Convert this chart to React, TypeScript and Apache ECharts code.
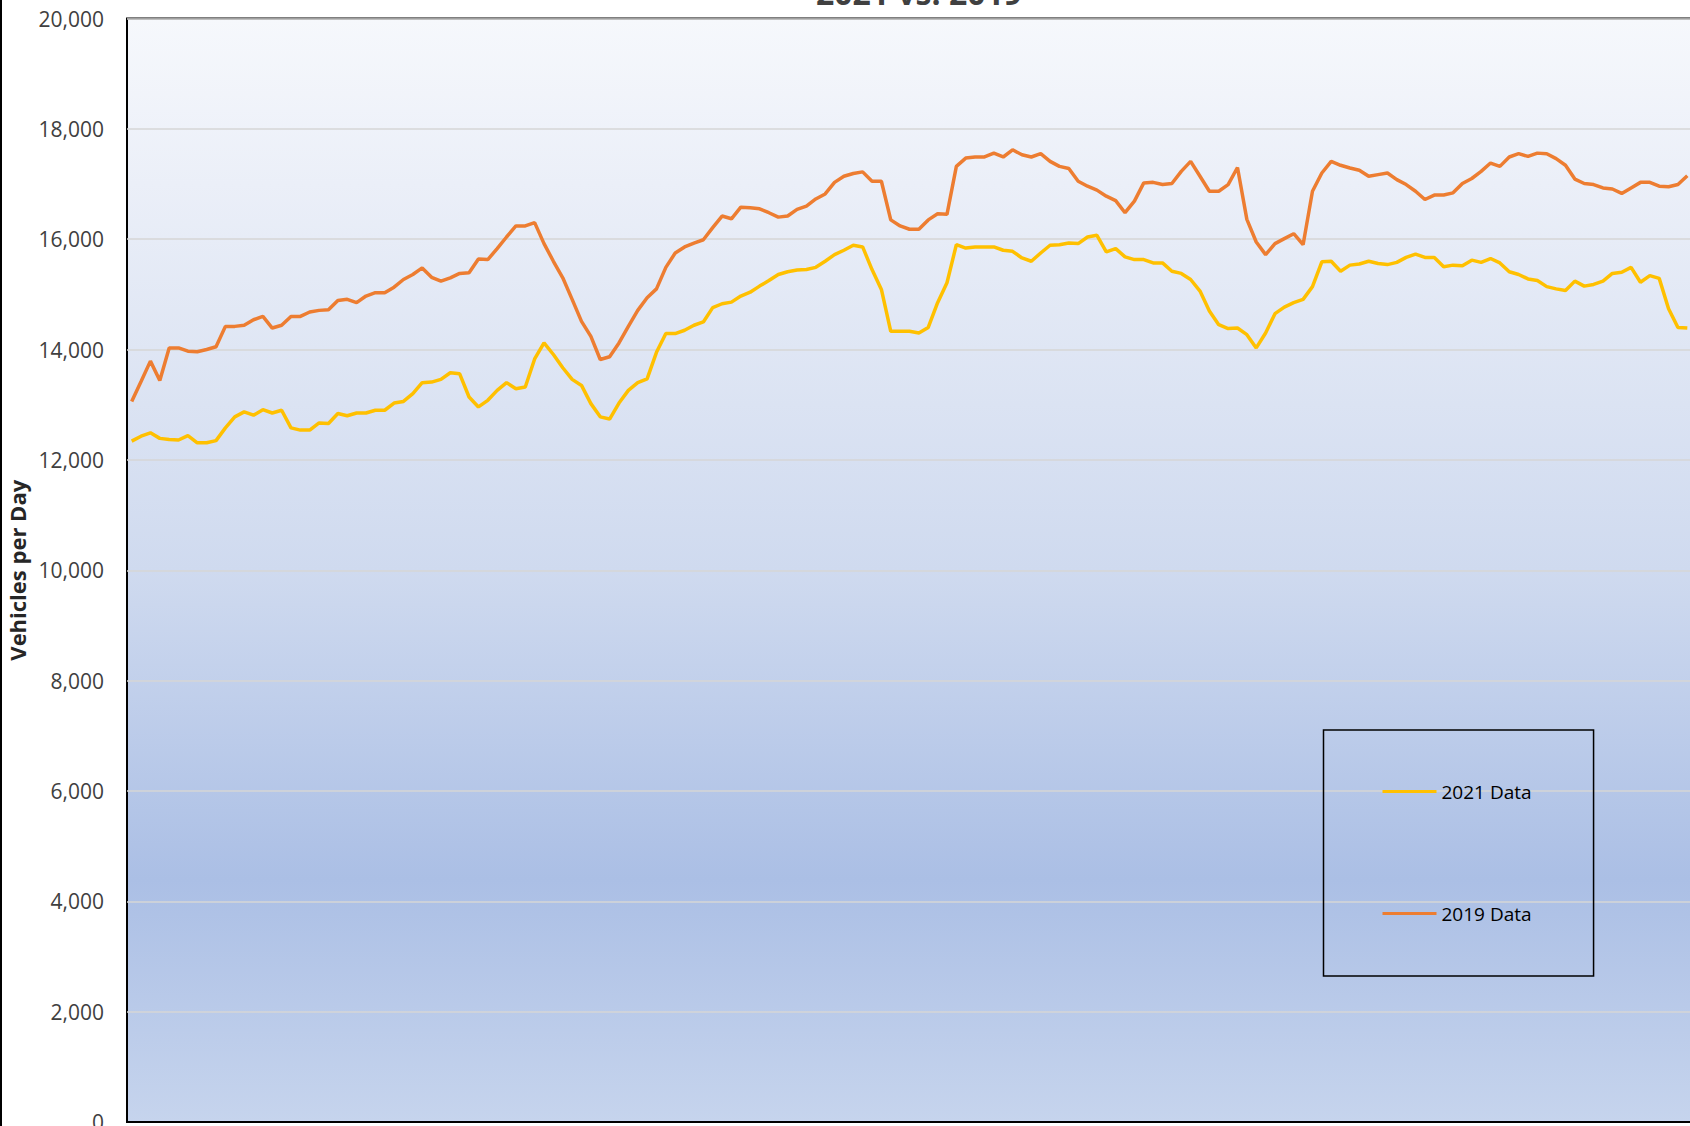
import React, { useEffect, useRef } from 'react';
import * as echarts from 'echarts';

const titleText = '2021 vs. 2019';
const yAxisTitle = 'Vehicles per Day';
const seriesNames = ['2021 Data', '2019 Data'];
const seriesColors = ['#FFC000', '#ED7D31'];
const yMin = 0;
const yMax = 20000;
const yInterval = 2000;

const data2021 = [
  12340, 12430, 12490, 12390, 12370, 12360, 12440, 12310, 12310, 12350,
  12580, 12780, 12870, 12810, 12910, 12850, 12900, 12580, 12540, 12540,
  12670, 12660, 12840, 12800, 12850, 12850, 12900, 12900, 13030, 13060,
  13200, 13400, 13410, 13460, 13580, 13560, 13140, 12960, 13080, 13260,
  13400, 13290, 13320, 13830, 14120, 13910, 13670, 13460, 13350, 13020,
  12780, 12740, 13030, 13260, 13400, 13470, 13950, 14290, 14290, 14350,
  14440, 14500, 14760, 14830, 14860, 14970, 15040, 15150, 15250, 15360,
  15410, 15440, 15450, 15490, 15600, 15720, 15800, 15890, 15860, 15450,
  15090, 14330, 14330, 14330, 14300, 14400, 14850, 15210, 15900, 15840,
  15860, 15860, 15860, 15800, 15780, 15660, 15600, 15750, 15890, 15900,
  15930, 15920, 16040, 16070, 15770, 15830, 15680, 15630, 15630, 15570,
  15570, 15420, 15380, 15270, 15060, 14700, 14450, 14380, 14390, 14270,
  14030, 14300, 14650, 14770, 14850, 14910, 15140, 15590, 15600, 15420,
  15530, 15550, 15600, 15560, 15540, 15580, 15670, 15730, 15670, 15670,
  15500, 15530, 15520, 15620, 15580, 15650, 15570, 15410, 15360, 15280,
  15250, 15140, 15100, 15070, 15240, 15150, 15180, 15240, 15380, 15400,
  15490, 15220, 15340, 15290, 14740, 14400, 14390,
];

const data2019 = [
  13060, 13420, 13790, 13440, 14030, 14030, 13970, 13960, 14000, 14050,
  14420, 14420, 14440, 14540, 14600, 14390, 14440, 14600, 14600, 14680,
  14710, 14720, 14890, 14910, 14850, 14970, 15030, 15030, 15130, 15270,
  15360, 15480, 15310, 15240, 15300, 15380, 15390, 15640, 15630, 15830,
  16040, 16240, 16240, 16300, 15920, 15600, 15300, 14910, 14510, 14240,
  13820, 13870, 14120, 14420, 14710, 14940, 15100, 15490, 15750, 15860,
  15930, 15990, 16210, 16420, 16370, 16580, 16570, 16550, 16480, 16400,
  16420, 16540, 16600, 16730, 16820, 17030, 17140, 17190, 17220, 17050,
  17050, 16350, 16240, 16180, 16180, 16350, 16460, 16450, 17320, 17470,
  17490, 17490, 17560, 17490, 17620, 17530, 17490, 17550, 17410, 17320,
  17280, 17050, 16960, 16890, 16780, 16700, 16480, 16690, 17020, 17030,
  16990, 17010, 17230, 17410, 17140, 16870, 16870, 16990, 17300, 16360,
  15950, 15720, 15920, 16010, 16100, 15900, 16870, 17200, 17410, 17340,
  17290, 17250, 17140, 17170, 17200, 17080, 16990, 16870, 16720, 16800,
  16800, 16840, 17010, 17100, 17230, 17380, 17320, 17490, 17550, 17500,
  17560, 17550, 17460, 17340, 17090, 17010, 16990, 16930, 16910, 16830,
  16930, 17030, 17030, 16960, 16950, 16990, 17150,
];

const dayLabels = data2021.map((_, i) => `Day ${i + 1}`);

const FONT = '"Open Sans", "Liberation Sans", sans-serif';

export default function App() {
  const ref = useRef<HTMLDivElement>(null);

  useEffect(() => {
    if (!ref.current) return;
    const chart = echarts.init(ref.current, null, { renderer: 'svg' });
    chart.setOption({
      animation: false,
      backgroundColor: '#ffffff',
      textStyle: { fontFamily: FONT },
      grid: {
        left: 127,
        top: 58.5,
        width: 1565,
        height: 1103.5,
        containLabel: false,
        outerBoundsMode: 'none',
        show: true,
        borderColor: '#000000',
        borderWidth: 2,
        backgroundColor: new echarts.graphic.LinearGradient(0, 0, 0, 1, [
          { offset: 0, color: '#f6f8fc' },
          { offset: 0.15, color: '#ebeff8' },
          { offset: 0.5, color: '#cfdaef' },
          { offset: 0.78, color: '#abbfe5' },
          { offset: 1, color: '#c6d4ed' },
        ]),
      },
      legend: {
        data: seriesNames,
        orient: 'vertical',
        left: 1323.5,
        top: 770,
        padding: [52, 62, 53, 59],
        itemGap: 103,
        icon: 'rect',
        itemWidth: 54,
        itemHeight: 3,
        borderColor: '#000000',
        borderWidth: 1.5,
        textStyle: { fontFamily: FONT, fontSize: 19, color: '#000000' },
      },
      xAxis: {
        type: 'category',
        data: dayLabels,
        boundaryGap: true,
        axisLine: { show: true, lineStyle: { color: '#000000', width: 2 } },
        axisTick: { show: false },
        axisLabel: { show: false },
        splitLine: { show: false },
      },
      yAxis: {
        type: 'value',
        min: yMin,
        max: yMax,
        interval: yInterval,
        name: yAxisTitle,
        nameLocation: 'middle',
        nameGap: 97,
        nameRotate: 90,
        nameTextStyle: { fontFamily: FONT, fontSize: 22, fontWeight: 'bold', color: '#262626' },
        axisLine: { show: false },
        axisTick: { show: false },
        axisLabel: {
          margin: 23,
          fontFamily: FONT,
          fontSize: 21,
          color: '#404040',
          formatter: (v: number) => v.toLocaleString('en-US'),
        },
        splitLine: { show: true, lineStyle: { color: '#d6d6d6', width: 1.5 } },
      },
      graphic: [
        {
          type: 'text',
          x: 919,
          y: 32,
          style: {
            text: titleText,
            font: `bold 32px ${FONT}`,
            fill: '#404040',
            align: 'center',
            verticalAlign: 'middle',
          },
        },
        {
          type: 'line',
          shape: { x1: 1, y1: 0, x2: 1, y2: 1180 },
          style: { stroke: '#000000', lineWidth: 2 },
        },
      ],
      series: [
        {
          name: seriesNames[0],
          type: 'line',
          data: data2021,
          symbol: 'none',
          lineStyle: { color: seriesColors[0], width: 3.5 },
          itemStyle: { color: seriesColors[0] },
        },
        {
          name: seriesNames[1],
          type: 'line',
          data: data2019,
          symbol: 'none',
          lineStyle: { color: seriesColors[1], width: 3.5 },
          itemStyle: { color: seriesColors[1] },
        },
      ],
    });
    return () => chart.dispose();
  }, []);

  return (
    <div
      style={{
        position: 'absolute',
        left: 0,
        top: 0,
        width: 1690,
        height: 1126,
        overflow: 'hidden',
        background: '#ffffff',
      }}
    >
      <div ref={ref} style={{ position: 'absolute', left: 0, top: -40, width: 1700, height: 1180 }} />
    </div>
  );
}
